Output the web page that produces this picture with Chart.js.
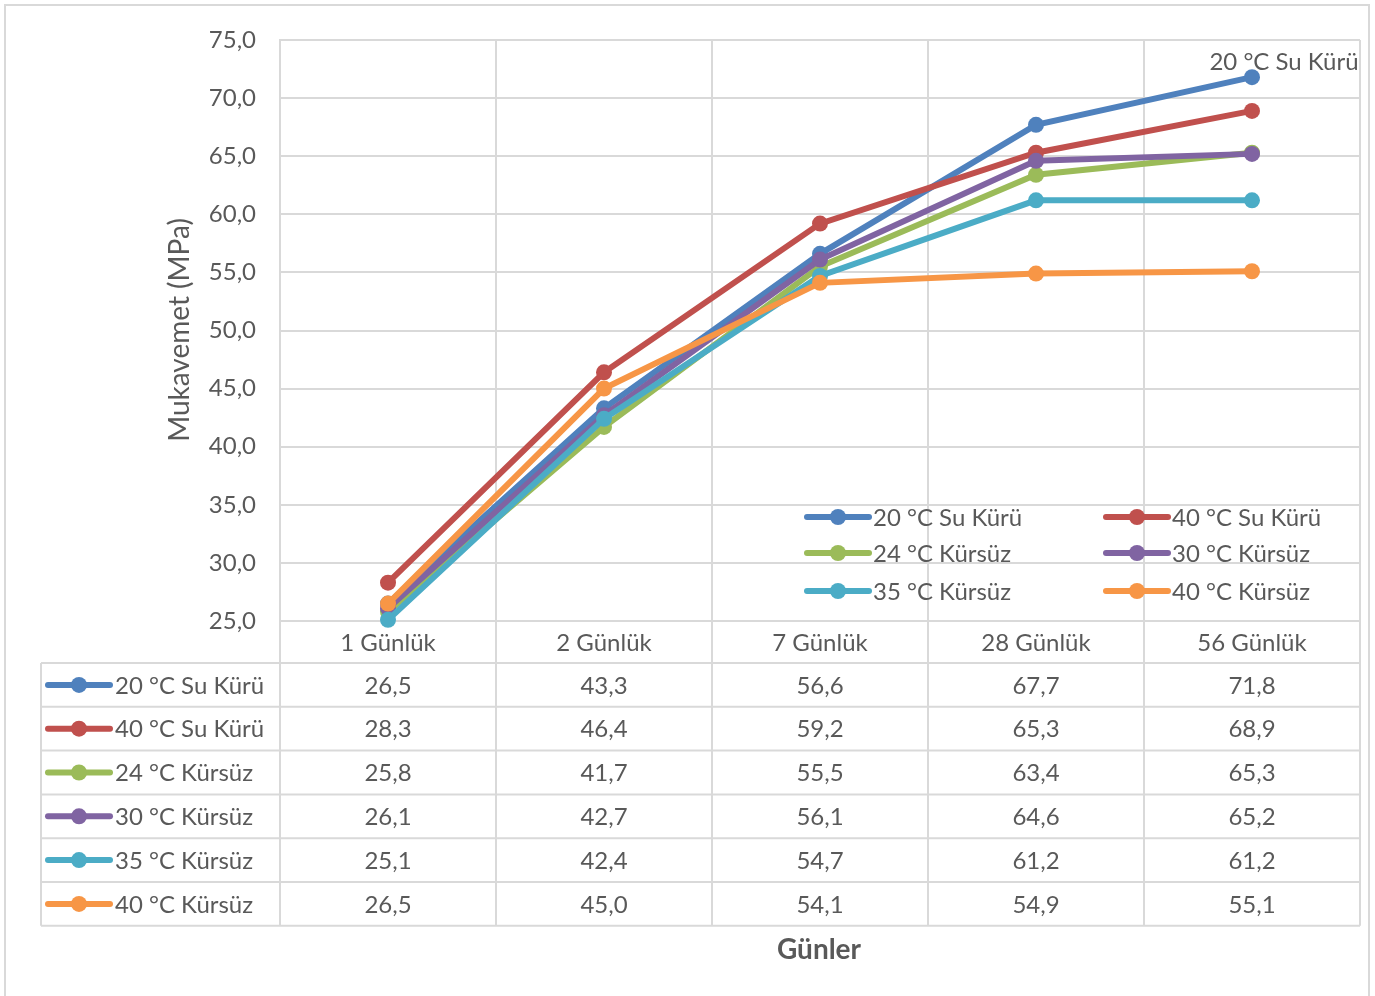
<!DOCTYPE html>
<html>
<head>
<meta charset="utf-8">
<script src="https://cdn.jsdelivr.net/npm/chart.js@4/dist/chart.umd.min.js"></script>
<style>
  html, body { margin: 0; padding: 0; background: #fff; }
  #wrap { width: 1375px; height: 996px; }
</style>
</head>
<body>
<div id="wrap"><canvas id="strengthChart" width="1375" height="996"></canvas></div>
<script>
// Basınç dayanımı (MPa) - kür koşullarına göre
const gunler = ['1 Günlük', '2 Günlük', '7 Günlük', '28 Günlük', '56 Günlük'];
const seriNames = ['20 °C Su Kürü', '40 °C Su Kürü', '24 °C Kürsüz', '30 °C Kürsüz', '35 °C Kürsüz', '40 °C Kürsüz'];
const su20 = [26.5, 43.3, 56.6, 67.7, 71.8];
const su40 = [28.3, 46.4, 59.2, 65.3, 68.9];
const kursuz24 = [25.8, 41.7, 55.5, 63.4, 65.3];
const kursuz30 = [26.1, 42.7, 56.1, 64.6, 65.2];
const kursuz35 = [25.1, 42.4, 54.7, 61.2, 61.2];
const kursuz40 = [26.5, 45.0, 54.1, 54.9, 55.1];
const yTicks = [25, 30, 35, 40, 45, 50, 55, 60, 65, 70, 75];

const seriValues = [su20, su40, kursuz24, kursuz30, kursuz35, kursuz40];
const colors = ['#4F81BD', '#C0504D', '#9BBB59', '#8064A2', '#4BACC6', '#F79646'];

const FONT = 'Lato, "Noto Sans", sans-serif';
const TXT = '#595959';
const GRID = '#D9D9D9';
const fmt = v => v.toFixed(1).replace('.', ',');

function drawKey(ctx, x, y, color) {
  ctx.save();
  ctx.strokeStyle = color;
  ctx.lineWidth = 6;
  ctx.lineCap = 'round';
  ctx.beginPath();
  ctx.moveTo(x, y);
  ctx.lineTo(x + 62, y);
  ctx.stroke();
  ctx.fillStyle = color;
  ctx.beginPath();
  ctx.arc(x + 31, y, 8, 0, Math.PI * 2);
  ctx.fill();
  ctx.restore();
}

// frame, data table, in-plot legend and end label
const extras = {
  id: 'extras',
  beforeDraw(chart) {
    const ctx = chart.ctx;
    ctx.save();
    ctx.strokeStyle = GRID;
    ctx.lineWidth = 2;
    ctx.strokeRect(5, 5, 1364, 1000);
    ctx.restore();
  },
  afterDraw(chart) {
    const ctx = chart.ctx;
    const area = chart.chartArea;
    const xs = chart.scales.x;
    const colW = xs.width / gunler.length;
    const catTop = area.bottom;
    const tableTop = 663;
    const rowH = 43.8;
    const tableLeft = 41;
    const tableBottom = tableTop + rowH * seriNames.length;

    ctx.save();
    ctx.strokeStyle = GRID;
    ctx.lineWidth = 2;
    // vertical lines
    for (let i = 0; i <= gunler.length; i++) {
      const x = area.left + i * colW;
      ctx.beginPath();
      ctx.moveTo(x, catTop);
      ctx.lineTo(x, tableBottom);
      ctx.stroke();
    }
    ctx.beginPath();
    ctx.moveTo(tableLeft, tableTop);
    ctx.lineTo(tableLeft, tableBottom);
    ctx.stroke();
    // horizontal lines
    for (let r = 0; r <= seriNames.length; r++) {
      const y = tableTop + r * rowH;
      ctx.beginPath();
      ctx.moveTo(tableLeft, y);
      ctx.lineTo(area.right, y);
      ctx.stroke();
    }

    ctx.fillStyle = TXT;
    ctx.font = '24px ' + FONT;
    ctx.textBaseline = 'middle';
    ctx.textAlign = 'center';
    gunler.forEach((g, i) => {
      ctx.fillText(g, xs.getPixelForValue(i), (catTop + tableTop) / 2 + 1);
    });
    seriNames.forEach((name, r) => {
      const yMid = tableTop + r * rowH + rowH / 2 + 1;
      drawKey(ctx, 48, yMid - 1, colors[r]);
      ctx.fillStyle = TXT;
      ctx.textAlign = 'left';
      ctx.fillText(name, 115, yMid);
      ctx.textAlign = 'center';
      seriValues[r].forEach((v, i) => {
        ctx.fillText(fmt(v), xs.getPixelForValue(i), yMid);
      });
    });

    // legend inside plot, two columns
    const legX = [807, 1106];
    const legY = [517, 553, 591];
    seriNames.forEach((name, k) => {
      const x = legX[k % 2];
      const y = legY[Math.floor(k / 2)];
      drawKey(ctx, x, y, colors[k]);
      ctx.fillStyle = TXT;
      ctx.textAlign = 'left';
      ctx.fillText(name, x + 66, y + 1);
    });

    // series label at last point of first series
    const meta = chart.getDatasetMeta(0);
    const last = meta.data[meta.data.length - 1];
    ctx.textAlign = 'center';
    ctx.fillText(seriNames[0], last.x + 32, last.y - 15);

    // axis titles
    ctx.save();
    ctx.translate(180, 330);
    ctx.rotate(-Math.PI / 2);
    ctx.font = '28px ' + FONT;
    ctx.fillText('Mukavemet (MPa)', 0, 0);
    ctx.restore();
    ctx.font = 'bold 28px ' + FONT;
    ctx.fillText('Günler', 819, 950);
    ctx.restore();
  }
};

new Chart(document.getElementById('strengthChart'), {
  type: 'line',
  data: {
    labels: gunler,
    datasets: seriNames.map((name, i) => ({
      label: name,
      data: seriValues[i],
      borderColor: colors[i],
      backgroundColor: colors[i],
      borderWidth: 6,
      pointRadius: 8,
      pointBorderWidth: 0,
      pointBackgroundColor: colors[i],
      tension: 0,
      clip: false,
      order: -i
    }))
  },
  options: {
    responsive: false,
    animation: false,
    layout: { padding: { left: 0, top: 40, right: 15, bottom: 375 } },
    plugins: {
      legend: { display: false },
      tooltip: { enabled: false }
    },
    scales: {
      x: {
        offset: true,
        grid: { offset: true, color: GRID, lineWidth: 2, drawTicks: false },
        border: { color: GRID, width: 2 },
        ticks: { display: false },
        afterFit: s => { s.height = 0; }
      },
      y: {
        min: 25,
        max: 75,
        afterBuildTicks: s => { s.ticks = yTicks.map(v => ({ value: v })); },
        grid: { color: GRID, lineWidth: 2, drawTicks: false },
        border: { color: GRID, width: 2 },
        ticks: {
          color: TXT,
          font: { family: FONT, size: 24 },
          padding: 24,
          callback: v => fmt(v)
        },
        afterFit: s => { s.width = 280; }
      }
    }
  },
  plugins: [extras]
});
</script>
</body>
</html>
